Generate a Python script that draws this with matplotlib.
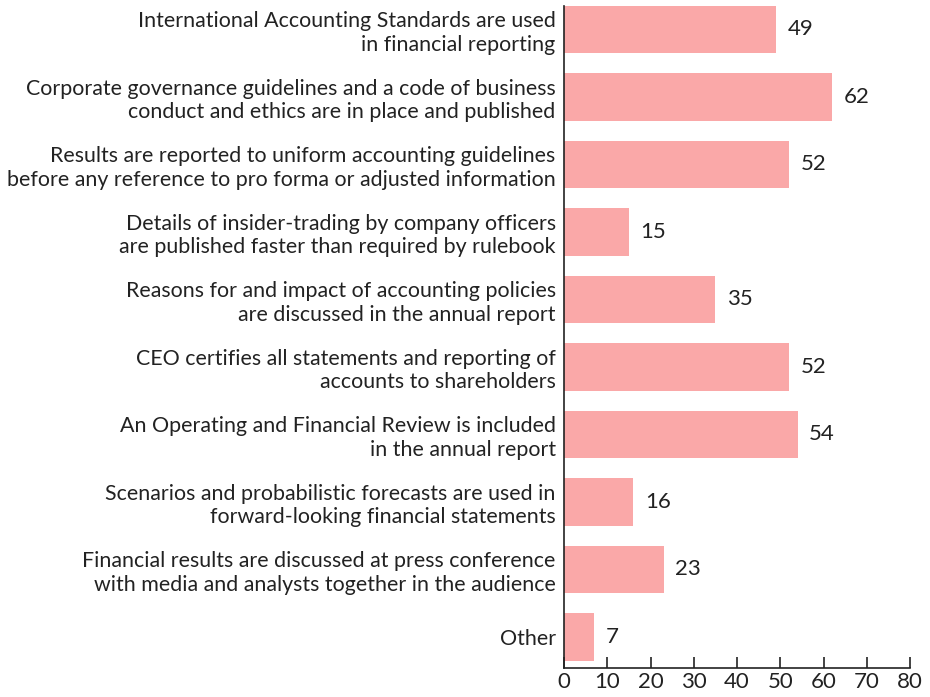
import matplotlib.pyplot as plt

plt.rcParams['font.family'] = ['Lato', 'DejaVu Sans']

labels = [
    "International Accounting Standards are used\nin financial reporting",
    "Corporate governance guidelines and a code of business\nconduct and ethics are in place and published",
    "Results are reported to uniform accounting guidelines\nbefore any reference to pro forma or adjusted information",
    "Details of insider-trading by company officers\nare published faster than required by rulebook",
    "Reasons for and impact of accounting policies\nare discussed in the annual report",
    "CEO certifies all statements and reporting of\naccounts to shareholders",
    "An Operating and Financial Review is included\nin the annual report",
    "Scenarios and probabilistic forecasts are used in\nforward-looking financial statements",
    "Financial results are discussed at press conference\nwith media and analysts together in the audience",
    "Other",
]
values = [49, 62, 52, 15, 35, 52, 54, 16, 23, 7]
xticks = [0, 10, 20, 30, 40, 50, 60, 70, 80]

bar_color = '#FAA8A8'
text_color = '#222222'

fig = plt.figure(figsize=(9.3, 6.97), dpi=100)
ax = fig.add_axes([0.6065, 0.0416, 0.372, 0.950])

pos = list(range(len(values)))
ax.barh(pos, values, height=0.7, color=bar_color)

for p, v in zip(pos, values):
    ax.text(v + 2.7, p, str(v), va='center', ha='left', fontsize=16, color=text_color)

ax.set_yticks(pos)
ax.set_yticklabels(labels, fontsize=15.4, color=text_color, linespacing=1.2)
ax.set_ylim(9.46, -0.35)
ax.set_xlim(0, 80)
ax.set_xticks(xticks)
ax.set_xticklabels([str(t) for t in xticks], fontsize=16, color=text_color)

ax.tick_params(axis='y', length=0, pad=6)
ax.tick_params(axis='x', direction='in', length=8, width=1.2, pad=3, color='#222222')

for side in ['top', 'right']:
    ax.spines[side].set_visible(False)
for side in ['left', 'bottom']:
    ax.spines[side].set_linewidth(1.2)
    ax.spines[side].set_color('#222222')

fig.savefig('out.png', dpi=100)
